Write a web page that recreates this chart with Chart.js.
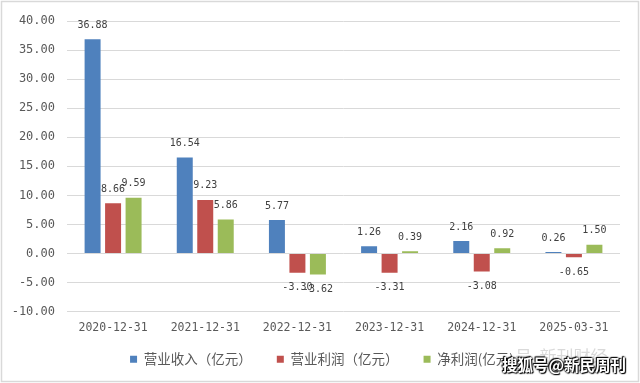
<!DOCTYPE html>
<html>
<head>
<meta charset="utf-8">
<script src="https://cdn.jsdelivr.net/npm/chart.js@4"></script>
<style>
html,body{margin:0;padding:0;background:#fff;}
#wrap{position:relative;width:640px;height:383px;}
#wm{position:absolute;left:502px;top:353px;font-family:"Noto Sans CJK SC";font-weight:bold;font-size:15.5px;line-height:23px;color:#fff;
text-shadow:0 0 2px #000,0 0 2px #000,1px 1px 1px #000,-1px -1px 1px #000;white-space:nowrap;}
#wm2{position:absolute;left:515px;top:344px;font-family:"Noto Sans CJK SC";font-size:17px;line-height:23px;color:rgba(170,170,170,0.45);white-space:nowrap;}
</style>
</head>
<body>
<div id="wrap">
<canvas id="c" width="640" height="383"></canvas>
<div id="wm2">号 &nbsp;新刊财经</div>
<div id="wm">搜狐号@新民周刊</div>
</div>
<script>
const categories = ["2020-12-31","2021-12-31","2022-12-31","2023-12-31","2024-12-31","2025-03-31"];
const seriesNames = ["营业收入（亿元）","营业利润（亿元）","净利润(亿元)"];
const revenue = [36.88, 16.54, 5.77, 1.26, 2.16, 0.26];
const operatingProfit = [8.66, 9.23, -3.30, -3.31, -3.08, -0.65];
const netProfit = [9.59, 5.86, -3.62, 0.39, 0.92, 1.50];
const yTicks = {min: -10, max: 40, step: 5};

const colors = ["#4f81bd", "#c0504d", "#9bbb59"];

const labelPlugin = {
  id: 'valLabels',
  afterDatasetsDraw(chart) {
    const ctx = chart.ctx;
    ctx.save();
    ctx.font = '10px "DejaVu Sans Mono"';
    ctx.fillStyle = '#404040';
    ctx.textAlign = 'center';
    ctx.textBaseline = 'middle';
    chart.data.datasets.forEach((ds, i) => {
      const meta = chart.getDatasetMeta(i);
      meta.data.forEach((el, j) => {
        const v = ds.data[j];
        const txt = v.toFixed(2);
        ctx.fillText(txt, el.x, v >= 0 ? el.y - 14 : el.y + 15);
      });
    });
    ctx.restore();
  }
};

const borderPlugin = {
  id: 'outerBorder',
  beforeDraw(chart) {
    const ctx = chart.ctx;
    ctx.save();
    ctx.fillStyle = '#fff';
    ctx.fillRect(0, 0, chart.width, chart.height);
    ctx.strokeStyle = '#d9d9d9';
    ctx.lineWidth = 1.5;
    ctx.strokeRect(1.5, 1.5, chart.width - 3, chart.height - 3);
    ctx.restore();
  }
};

const legendShift = {
  id: 'legendShift',
  afterLayout(chart) {
    const lg = chart.legend;
    if (!lg) return;
    const dx = 12, dy = -16;
    lg.left += dx; lg.right += dx;
    lg.top += dy; lg.bottom += dy;
    if (lg.adjustHitBoxes) lg.adjustHitBoxes();
  }
};

new Chart(document.getElementById('c'), {
  type: 'bar',
  data: {
    labels: categories,
    datasets: [
      {label: seriesNames[0], data: revenue, backgroundColor: colors[0]},
      {label: seriesNames[1], data: operatingProfit, backgroundColor: colors[1]},
      {label: seriesNames[2], data: netProfit, backgroundColor: colors[2]}
    ]
  },
  options: {
    responsive: false,
    animation: false,
    devicePixelRatio: 1,
    categoryPercentage: 0.667,
    barPercentage: 0.78,
    layout: {padding: {left: 0, right: 20, top: 21, bottom: -9}},
    plugins: {
      legend: {
        position: 'bottom',
        labels: {
          boxWidth: 7, boxHeight: 7, padding: 25,
          color: '#595959',
          font: {family: '"Noto Sans CJK SC"', size: 13.5}
        }
      },
      tooltip: {enabled: false}
    },
    scales: {
      x: {
        grid: {display: false, drawTicks: false},
        border: {display: false},
        ticks: {color: '#595959', font: {family: '"DejaVu Sans Mono"', size: 11.5}, padding: 9, maxRotation: 0}
      },
      y: {
        min: yTicks.min, max: yTicks.max,
        afterFit(scale) { scale.width = 67; },
        grid: {color: '#d9d9d9', lineWidth: 1, drawTicks: false},
        border: {display: false},
        ticks: {stepSize: yTicks.step, color: '#595959', padding: 12,
          font: {family: '"DejaVu Sans Mono"', size: 12},
          callback: v => Number(v).toFixed(2)}
      }
    }
  },
  plugins: [borderPlugin, labelPlugin, legendShift]
});
</script>
</body>
</html>
